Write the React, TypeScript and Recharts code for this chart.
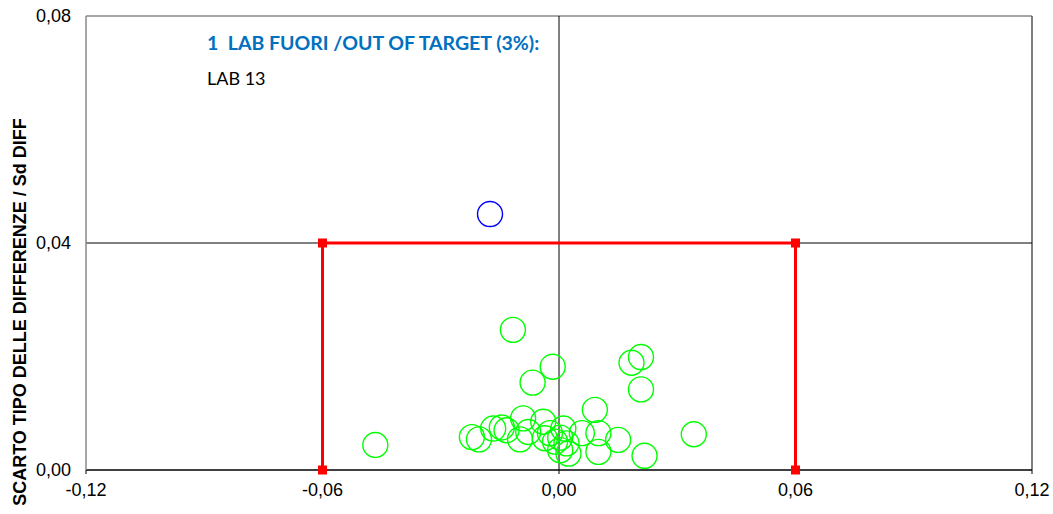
import { ScatterChart, Scatter, XAxis, YAxis, ReferenceLine } from "recharts"

const xTicks = [-0.12, -0.06, 0, 0.06, 0.12]
const yTicks = [0, 0.04, 0.08]

// target box (±0.06, Sd 0.04)
const targetBox = [
  { x: -0.06, y: 0 },
  { x: -0.06, y: 0.04 },
  { x: 0.06, y: 0.04 },
  { x: 0.06, y: 0 },
]

const labsIn = [
  { x: -0.0117, y: 0.0247 },
  { x: -0.0016, y: 0.0182 },
  { x: -0.0067, y: 0.0154 },
  { x: 0.0184, y: 0.0189 },
  { x: 0.0208, y: 0.0199 },
  { x: 0.0208, y: 0.0142 },
  { x: 0.0091, y: 0.0106 },
  { x: -0.0466, y: 0.0044 },
  { x: 0.0342, y: 0.0063 },
  { x: 0.0217, y: 0.0025 },
  { x: -0.0221, y: 0.0058 },
  { x: -0.0203, y: 0.0054 },
  { x: -0.0167, y: 0.0073 },
  { x: -0.0145, y: 0.0075 },
  { x: -0.0133, y: 0.007 },
  { x: -0.0091, y: 0.0091 },
  { x: -0.0099, y: 0.0054 },
  { x: -0.0078, y: 0.0067 },
  { x: -0.004, y: 0.0085 },
  { x: -0.0036, y: 0.0056 },
  { x: -0.0023, y: 0.0065 },
  { x: -0.001, y: 0.005 },
  { x: 0.0003, y: 0.0057 },
  { x: 0.0011, y: 0.0073 },
  { x: 0.0019, y: 0.0047 },
  { x: 0.0024, y: 0.0029 },
  { x: 0.0003, y: 0.0035 },
  { x: 0.0058, y: 0.0065 },
  { x: 0.01, y: 0.0065 },
  { x: 0.01, y: 0.0032 },
  { x: 0.015, y: 0.0053 },
]

const labsOut = [{ x: -0.0175, y: 0.0451 }]

const fmt = (v: number) => v.toFixed(2).replace(".", ",")

const ring = (color: string) => (props: any) => (
  <circle cx={props.cx} cy={props.cy} r={12.5} fill="none" stroke={color} strokeWidth={1.4} />
)

const square = (props: any) => (
  <rect x={props.cx - 4.5} y={props.cy - 4.5} width={9} height={9} fill="#ff0000" />
)

export default function App() {
  return (
    <div
      style={{
        position: "relative",
        width: 1053,
        height: 514,
        overflow: "hidden",
        fontFamily: "'Liberation Sans', Arial, sans-serif",
      }}
    >
      <style>{"html,body{margin:0;padding:0;overflow:hidden}"}</style>
      <ScatterChart
        width={1053}
        height={514}
        margin={{ top: 16, right: 21, left: 28, bottom: 14 }}
        style={{ overflow: "visible" }}
      >
        <XAxis
          type="number"
          dataKey="x"
          domain={[-0.12, 0.12]}
          ticks={xTicks}
          tickFormatter={fmt}
          height={30}
          axisLine={{ stroke: "#000", strokeWidth: 1.5 }}
          tickLine={{ stroke: "#000" }}
          tickSize={4}
          tickMargin={9}
          tick={{ fill: "#000", fontSize: 18 }}
          interval={0}
        />
        <YAxis
          type="number"
          dataKey="y"
          domain={[0, 0.08]}
          ticks={yTicks}
          tickFormatter={fmt}
          width={58}
          axisLine={{ stroke: "#888", strokeWidth: 1.5 }}
          tickLine={false}
          tickSize={0}
          tickMargin={15}
          tick={{ fill: "#000", fontSize: 18 }}
          interval={0}
        />
        <ReferenceLine y={0.08} stroke="#888" strokeWidth={1.5} />
        <ReferenceLine x={0.12} stroke="#555" strokeWidth={1.5} />
        <ReferenceLine y={0.04} stroke="#000" strokeWidth={1} />
        <ReferenceLine x={0} stroke="#000" strokeWidth={1} />
        <Scatter
          data={targetBox}
          line={{ stroke: "#ff0000", strokeWidth: 3 }}
          shape={square}
          isAnimationActive={false}
        />
        <Scatter data={labsIn} shape={ring("#00ff00")} isAnimationActive={false} />
        <Scatter data={labsOut} shape={ring("#0000ff")} isAnimationActive={false} />
      </ScatterChart>
      <div
        style={{
          position: "absolute",
          left: 207,
          top: 33,
          lineHeight: 1,
          color: "#0070c0",
          fontWeight: "bold",
          fontSize: 19.5,
          fontFamily: "Lato, 'Open Sans', sans-serif",
          whiteSpace: "nowrap",
        }}
      >
        1&nbsp;&nbsp;LAB FUORI /OUT OF TARGET (3%):
      </div>
      <div
        style={{
          position: "absolute",
          left: 207,
          top: 68.5,
          lineHeight: 1,
          color: "#000",
          fontSize: 18,
          fontFamily: "Lato, 'Open Sans', sans-serif",
          whiteSpace: "nowrap",
        }}
      >
        LAB 13
      </div>
      <div
        style={{
          position: "absolute",
          left: 20,
          top: 312,
          transform: "translate(-50%, -50%) rotate(-90deg)",
          fontWeight: "bold",
          fontSize: 18,
          lineHeight: 1,
          color: "#000",
          whiteSpace: "nowrap",
        }}
      >
        SCARTO TIPO DELLE DIFFERENZE / Sd DIFF
      </div>
    </div>
  )
}
